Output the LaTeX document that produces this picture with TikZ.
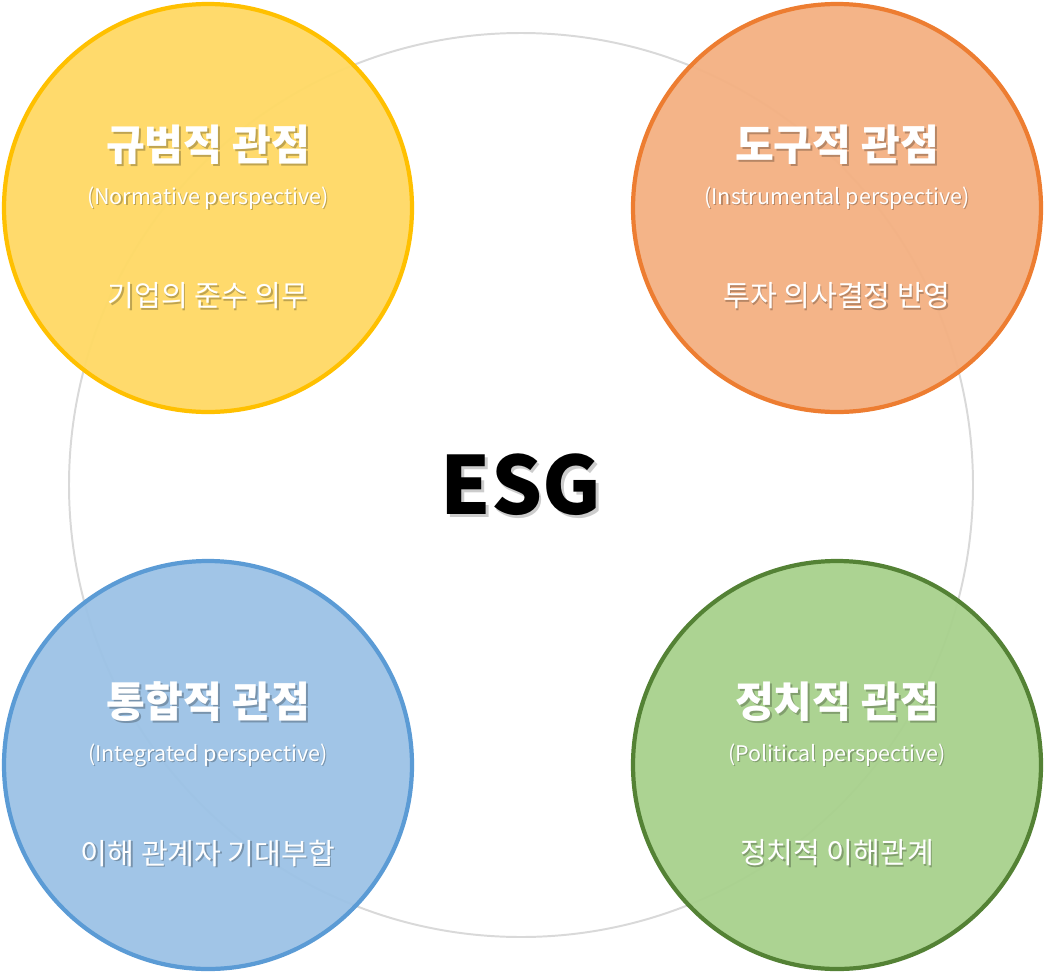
\documentclass[tikz,border=0pt]{standalone}
\usepackage{fontspec}
\setmainfont{Noto Sans CJK KR}
\usepackage{xcolor}
\usetikzlibrary{positioning}
\definecolor{ringgray}{HTML}{D9D9D9}
\definecolor{normfill}{HTML}{FFD966}
\definecolor{normline}{HTML}{FFC000}
\definecolor{instfill}{HTML}{F4B183}
\definecolor{instline}{HTML}{ED7D31}
\definecolor{intefill}{HTML}{9DC3E6}
\definecolor{inteline}{HTML}{5B9BD5}
\definecolor{polifill}{HTML}{A9D18E}
\definecolor{poliline}{HTML}{548235}
\tikzset{
  ring/.style={draw=ringgray,line width=1.4pt,circle,minimum size=452*2*0.025cm,inner sep=0pt},
  viewdisc/.style={circle,line width=3pt,minimum size=408*0.025cm,inner sep=0pt,
                   fill opacity=0.96,draw opacity=1},
  lbl/.style={text=white,inner sep=0pt},
  lblshadow/.style={text=black,text opacity=0.25,inner sep=0pt},
  titlefont/.style={font=\fontsize{30}{33}\selectfont\bfseries},
  subfont/.style={font=\fontsize{15.3}{18}\selectfont},
  bodyfont/.style={font=\fontsize{20.7}{24}\selectfont}
}

\begin{document}
\begin{tikzpicture}[x=0.025cm,y=-0.025cm]
  \useasboundingbox (0,0) rectangle (1045,973);
  \node[ring] (esgring) at (521,485) {};
  \foreach \i/\cx/\cy/\fc/\dc/\ttl/\sub/\bdy in {
      norm/208/208/normfill/normline/규범적 관점/(Normative perspective)/기업의 준수 의무,
      inst/837/208/instfill/instline/도구적 관점/(Instrumental perspective)/투자 의사결정 반영,
      inte/208/765/intefill/inteline/통합적 관점/(Integrated perspective)/이해 관계자 기대부합,
      poli/837/765/polifill/poliline/정치적 관점/(Political perspective)/정치적 이해관계}{
    \node[viewdisc,fill=\fc,draw=\dc] (\i) at (\cx,\cy) {};
    % title, subtitle and body, each with a soft drop shadow
    \node[lblshadow,titlefont] at ([xshift=1.4pt,yshift=-1.4pt]\i.center) [yshift=63*0.025cm] {\ttl};
    \node[lbl,titlefont] (\i-title) at (\i.center) [yshift=63*0.025cm] {\ttl};
    \node[lblshadow,subfont] at ([xshift=0.8pt,yshift=-0.8pt]\i.center) [yshift=10*0.025cm] {\sub};
    \node[lbl,subfont] (\i-sub) at (\i.center) [yshift=10*0.025cm] {\sub};
    \node[lblshadow,bodyfont] at ([xshift=1pt,yshift=-1pt]\i.center) [yshift=-88*0.025cm] {\bdy};
    \node[lbl,bodyfont] (\i-body) at (\i.center) [yshift=-88*0.025cm] {\bdy};
  }
  \node[text=black,text opacity=0.2,inner sep=0pt,font=\fontsize{57}{60}\selectfont\bfseries]
    at ([xshift=1.8pt,yshift=-1.8pt]esgring.center) {ESG};
  \node[inner sep=0pt,font=\fontsize{57}{60}\selectfont\bfseries] (esg) at (esgring.center) {ESG};
\end{tikzpicture}
\end{document}
